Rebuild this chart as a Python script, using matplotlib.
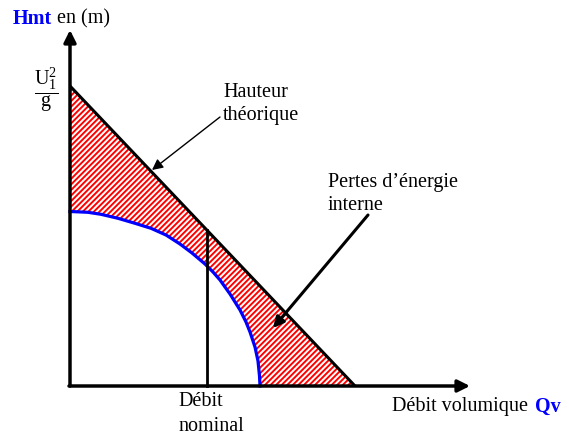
import matplotlib
matplotlib.use("Agg")
import matplotlib.pyplot as plt
import numpy as np

plt.rcParams['font.family'] = ['Liberation Serif', 'DejaVu Serif']
plt.rcParams['mathtext.fontset'] = 'custom'
plt.rcParams['mathtext.rm'] = 'Liberation Serif'
plt.rcParams['mathtext.it'] = 'Liberation Serif'
plt.rcParams['hatch.linewidth'] = 1.4

# Theoretical head (straight line)
Q_theo = [0, 285]
H_theo = [300, 0]
# Real head curve (blue)
Q_reel = [0, 18, 31, 48, 65, 81, 96, 110, 122, 135, 143, 150, 160, 170, 176, 180, 185, 188, 189.5, 190]
H_reel = [174.5, 173.7, 171.7, 167.7, 162.7, 157.7, 151, 142, 133, 122, 114, 106, 92, 76, 64, 54, 39, 25, 10, 0]
# Nominal flow
Q_nom = 137
# Axis extents
Q_axis_end = 400
H_axis_end = 356

fig = plt.figure(figsize=(5.69, 4.43), dpi=100)
ax = fig.add_axes([0, 0, 1, 1])
ax.set_xlim(-70, 499)
ax.set_ylim(-57, 386)
ax.axis('off')

# hatched region between real curve and theoretical line
px = list(Q_theo) + Q_reel[::-1]
py = list(H_theo) + H_reel[::-1]
ax.fill(px, py, facecolor='white', edgecolor='red', hatch='//////', linewidth=0, zorder=1)

# theoretical line
ax.plot(Q_theo, H_theo, color='black', lw=2.2, zorder=3, solid_capstyle='butt')
# real curve
ax.plot(Q_reel, H_reel, color='#0000ff', lw=2.3, zorder=3, solid_joinstyle='round')
# nominal vertical line
H_nom = np.interp(Q_nom, Q_theo, H_theo)
ax.plot([Q_nom, Q_nom], [0, H_nom], color='black', lw=2, zorder=3)

# axes arrows
ax.annotate('', xy=(0, H_axis_end), xytext=(0, 0),
            arrowprops=dict(arrowstyle='-|>', lw=2.5, color='black',
                            mutation_scale=18, shrinkA=0, shrinkB=0), zorder=4)
ax.annotate('', xy=(Q_axis_end, 0), xytext=(-1, 0),
            arrowprops=dict(arrowstyle='-|>', lw=2.5, color='black',
                            mutation_scale=18, shrinkA=0, shrinkB=0), zorder=4)

fs = 14.5
# axis labels
ax.text(-57, 367, 'Hmt', color='#0000ff', fontweight='bold', fontsize=fs, va='center', ha='left')
ax.text(-13, 367, 'en (m)', color='black', fontsize=fs, va='center', ha='left')
t = ax.text(322, -21, 'Débit volumique', color='black', fontsize=fs, va='center', ha='left')
ax.annotate('Qv', xy=(1, 0.5), xycoords=t, xytext=(5, 0), textcoords='offset points',
            color='#0000ff', fontweight='bold', fontsize=fs, va='center', ha='left')

# H0 label
ax.text(-24, 296, r'$\dfrac{\mathrm{U}_1^2}{\mathrm{g}}$', fontsize=fs, ha='center', va='center')

# nominal label
ax.text(108, -28, 'Débit\nnominal', fontsize=fs, ha='left', va='center', linespacing=1.45)

# annotations
ax.text(153, 282, 'Hauteur\nthéorique', fontsize=fs, ha='left', va='center', linespacing=1.35)
ax.annotate('', xy=(82, 216), xytext=(150, 269),
            arrowprops=dict(arrowstyle='-|>', lw=1.0, color='black',
                            mutation_scale=16, shrinkA=0, shrinkB=0))
ax.text(258, 192, 'Pertes d\u2019énergie\ninterne', fontsize=fs, ha='left', va='center', linespacing=1.35)
ax.annotate('', xy=(203, 58), xytext=(298, 171),
            arrowprops=dict(arrowstyle='-|>', lw=2.2, color='black',
                            mutation_scale=16, shrinkA=0, shrinkB=0))

fig.savefig('out.png', dpi=100)
